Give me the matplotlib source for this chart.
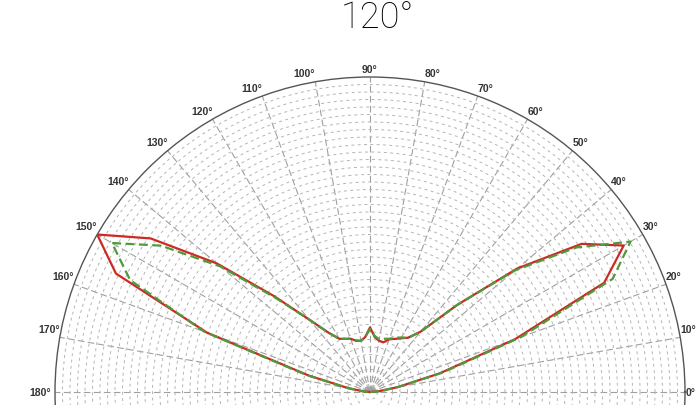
import numpy as np
import matplotlib
matplotlib.use('Agg')
import matplotlib.pyplot as plt

# ---- data ----
angles_deg = [0, 5, 10, 15, 20, 25, 30, 35, 40, 45, 50, 55, 60, 65, 70, 75, 80, 85, 90,
              95, 100, 105, 110, 115, 120, 125, 130, 135, 140, 145, 150, 155, 160, 165, 170, 175, 180]
red = [0.00, 0.03, 0.09, 0.23, 0.49, 0.82, 0.93, 0.82, 0.61, 0.39, 0.25, 0.21, 0.197, 0.186, 0.178, 0.163, 0.165, 0.175, 0.205,
       0.175, 0.165, 0.168, 0.18, 0.186, 0.195, 0.23, 0.30, 0.43, 0.635, 0.85, 1.00, 0.89, 0.55, 0.20, 0.07, 0.02, 0.00]
green = [0.00, 0.03, 0.09, 0.24, 0.51, 0.85, 0.955, 0.80, 0.60, 0.39, 0.25, 0.21, 0.20, 0.19, 0.18, 0.175, 0.17, 0.178, 0.20,
         0.175, 0.165, 0.17, 0.18, 0.186, 0.195, 0.23, 0.30, 0.42, 0.62, 0.81, 0.946, 0.84, 0.56, 0.21, 0.07, 0.02, 0.00]
tick_angles = list(range(0, 181, 10))
tick_labels = [f"{a}°" for a in tick_angles]
title = "120°"
n_rings = 42

W, H = 697, 406
cx, cy, R = 370, 393, 315

fig = plt.figure(figsize=(W / 100, H / 100), dpi=100)
ax = fig.add_axes([(cx - R) / W, (H - cy - R) / H, 2 * R / W, 2 * R / H], projection='polar')
ax.set_ylim(0, 1)
ax.set_xticks(np.deg2rad(tick_angles))
ax.set_xticklabels([])
ax.set_yticks(np.arange(1, n_rings) / n_rings)
ax.set_yticklabels([])
ax.tick_params(length=0)
ax.xaxis.grid(True, color='#a0a0a0', lw=0.8, linestyle=(0, (6, 3)))
ax.yaxis.grid(True, color='#b4b4b4', lw=0.7, linestyle=(0, (3, 3.5)))
ax.spines['polar'].set_color('#555555')
ax.spines['polar'].set_linewidth(1.0)

th = np.deg2rad(angles_deg)
ax.plot(th, red, color='#cc2a22', lw=1.6, zorder=3)
ax.plot(th, green, color='#4f9a3c', lw=1.6, ls=(0, (4, 2)), zorder=4)

for a, lab in zip(tick_angles, tick_labels):
    if a == 0:
        ha, va, off = 'left', 'center', (0.5, 0)
    elif a == 180:
        ha, va, off = 'right', 'center', (-3, 0)
    else:
        ha = 'left' if a < 90 else ('right' if a > 90 else 'center')
        va, off = 'bottom', (0, 2.5)
    ax.annotate(lab, xy=(np.deg2rad(a), 1.0), xycoords='data', xytext=off,
                textcoords='offset points', ha=ha, va=va, fontsize=7.5,
                fontweight='bold', color='#333333', family='Liberation Sans',
                annotation_clip=False)

fig.text(377 / W, 1 - 28 / H, title, ha='center', va='baseline', fontsize=26,
         family='Roboto', weight='light', color='#000000')

fig.savefig('out.png', dpi=100)
